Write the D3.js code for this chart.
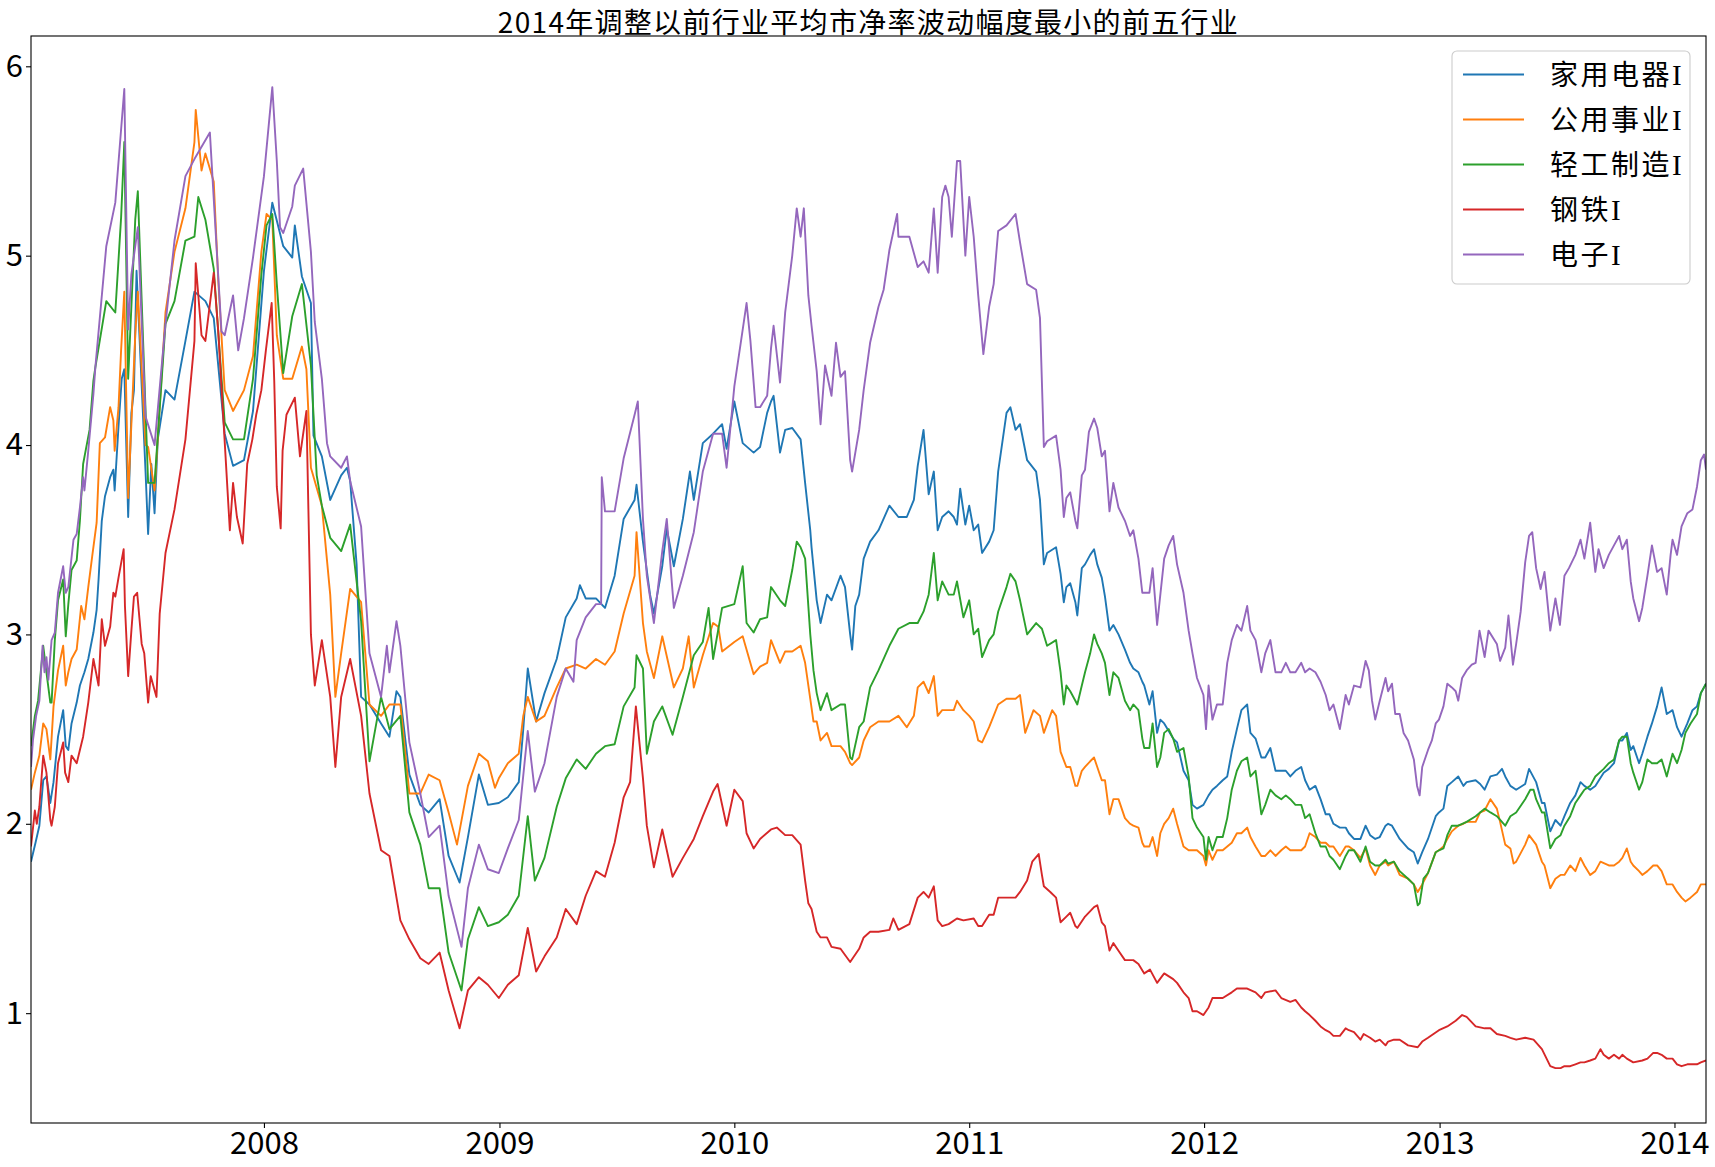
<!DOCTYPE html>
<html><head><meta charset="utf-8">
<script src="https://cdn.jsdelivr.net/npm/d3@7/dist/d3.min.js"></script>
<style>body{margin:0;background:#fff}</style>
</head><body>
<svg id="chart" width="1715" height="1167"></svg>
<script>
const chartTitle = "2014年调整以前行业平均市净率波动幅度最小的前五行业";
const seriesNames = ["家用电器I","公用事业I","轻工制造I","钢铁I","电子I"];
const seriesColors = ["#1f77b4","#ff7f0e","#2ca02c","#d62728","#9467bd"];
const yTickValues = [1,2,3,4,5,6];
const xTickYears = [2008,2009,2010,2011,2012,2013,2014];

const applianceData = [
["2007-01-04",1.80],["2007-01-11",1.90],["2007-01-17",1.99],["2007-01-23",2.23],["2007-01-28",2.25],["2007-02-03",2.11],["2007-02-08",2.22],["2007-02-15",2.46],["2007-02-23",2.60],["2007-02-27",2.41],["2007-03-03",2.39],["2007-03-08",2.53],["2007-03-16",2.64],["2007-03-21",2.73],["2007-03-28",2.80],["2007-04-03",2.87],["2007-04-11",3.01],["2007-04-16",3.13],["2007-04-19",3.29],["2007-04-24",3.60],["2007-04-29",3.73],["2007-05-07",3.83],["2007-05-12",3.87],["2007-05-14",3.76],["2007-05-20",4.10],["2007-05-25",4.35],["2007-05-29",4.40],["2007-06-04",3.62],["2007-06-09",4.17],["2007-06-13",4.29],["2007-06-17",4.92],["2007-07-01",3.86],["2007-07-05",3.53],["2007-07-10",3.90],["2007-07-15",3.64],["2007-07-20",4.03],["2007-08-01",4.29],["2007-08-15",4.24],["2007-09-01",4.55],["2007-09-15",4.81],["2007-10-02",4.76],["2007-10-15",4.67],["2007-11-01",4.06],["2007-11-14",3.89],["2007-12-01",3.92],["2007-12-15",4.18],
["2008-01-01",4.92],["2008-01-14",5.28],["2008-01-31",5.05],["2008-02-14",4.99],["2008-02-18",5.16],["2008-02-29",4.89],["2008-03-14",4.75],["2008-03-18",4.05],["2008-03-31",3.94],["2008-04-13",3.71],["2008-04-30",3.84],["2008-05-09",3.88],["2008-05-14",3.81],["2008-05-24",3.37],["2008-05-31",2.67],["2008-06-13",2.63],["2008-07-01",2.53],["2008-07-14",2.46],["2008-07-25",2.70],["2008-07-31",2.67],["2008-08-14",2.26],["2008-08-31",2.10],["2008-09-13",2.06],["2008-09-30",2.13],["2008-10-14",1.83],["2008-10-31",1.69],["2008-11-13",1.93],["2008-11-30",2.26],["2008-12-14",2.10],["2008-12-31",2.11],
["2009-01-14",2.14],["2009-01-31",2.22],["2009-02-07",2.5],["2009-02-14",2.82],["2009-02-27",2.54],["2009-03-12",2.69],["2009-03-31",2.87],["2009-04-14",3.09],["2009-05-01",3.19],["2009-05-06",3.26],["2009-05-15",3.19],["2009-05-31",3.19],["2009-06-14",3.14],["2009-06-29",3.31],["2009-07-13",3.61],["2009-07-30",3.71],["2009-08-02",3.79],["2009-08-12",3.49],["2009-08-23",3.21],["2009-08-29",3.11],["2009-09-11",3.36],["2009-09-18",3.56],["2009-09-29",3.36],["2009-10-13",3.61],["2009-10-24",3.86],["2009-10-30",3.71],["2009-11-13",4.01],["2009-11-29",4.06],["2009-12-13",4.11],["2009-12-20",3.98],["2010-01-01",4.23],["2010-01-14",4.01],["2010-01-31",3.96],
["2010-02-10",3.99],["2010-02-21",4.17],["2010-02-27",4.23],["2010-03-03",4.26],["2010-03-13",3.96],["2010-03-21",4.08],["2010-04-01",4.09],["2010-04-14",4.03],["2010-04-21",3.80],["2010-04-29",3.55],["2010-05-01",3.46],["2010-05-09",3.18],["2010-05-15",3.06],["2010-05-25",3.21],["2010-06-01",3.18],["2010-06-15",3.31],["2010-06-22",3.25],["2010-06-30",3.0],["2010-07-03",2.92],["2010-07-08",3.15],["2010-07-14",3.21],["2010-07-21",3.40],["2010-07-31",3.49],["2010-08-13",3.55],["2010-08-30",3.68],["2010-09-13",3.62],["2010-09-26",3.62],["2010-10-07",3.71],["2010-10-13",3.89],["2010-10-22",4.08],["2010-10-30",3.74],["2010-11-07",3.86],["2010-11-13",3.55],["2010-11-20",3.62],["2010-11-30",3.65],["2010-12-08",3.62],["2010-12-13",3.58],["2010-12-18",3.77],["2010-12-26",3.58],["2011-01-01",3.68],["2011-01-08",3.55],["2011-01-15",3.58],["2011-01-21",3.43],["2011-02-01",3.49],["2011-02-08",3.55],["2011-02-15",3.86],["2011-02-28",4.17],["2011-03-06",4.20],["2011-03-14",4.08],["2011-03-21",4.11],["2011-04-01",3.92],["2011-04-15",3.86],["2011-04-21",3.71],["2011-04-27",3.37],["2011-05-02",3.43],["2011-05-16",3.46],
["2011-05-23",3.32],["2011-05-28",3.17],["2011-06-01",3.25],["2011-06-07",3.27],["2011-06-15",3.17],["2011-06-18",3.10],["2011-06-25",3.35],["2011-06-30",3.37],["2011-07-08",3.42],["2011-07-14",3.45],["2011-07-19",3.37],["2011-07-26",3.30],["2011-07-31",3.20],["2011-08-07",3.02],["2011-08-13",3.05],["2011-08-21",3.0],["2011-08-31",2.92],["2011-09-08",2.85],["2011-09-13",2.82],["2011-09-21",2.80],["2011-09-27",2.75],["2011-09-30",2.73],["2011-10-08",2.63],["2011-10-13",2.70],["2011-10-20",2.48],["2011-10-25",2.55],["2011-10-31",2.53],["2011-11-14",2.45],["2011-11-20",2.43],["2011-11-30",2.28],["2011-12-08",2.23],["2011-12-14",2.10],["2011-12-21",2.08],["2011-12-31",2.10],["2012-01-08",2.15],["2012-01-14",2.18],["2012-01-21",2.20],["2012-01-30",2.23],["2012-02-06",2.25],["2012-02-13",2.38],["2012-02-21",2.50],["2012-02-28",2.60],["2012-03-08",2.63],["2012-03-13",2.48],["2012-03-21",2.45],["2012-03-30",2.35],["2012-04-05",2.35],["2012-04-13",2.40],["2012-04-21",2.28],["2012-04-30",2.28],["2012-05-07",2.28],["2012-05-14",2.25],["2012-05-22",2.28],["2012-05-31",2.30],["2012-06-06",2.23],["2012-06-13",2.18],["2012-06-22",2.20],["2012-06-30",2.13],["2012-07-08",2.05],["2012-07-14",2.05],["2012-07-20",2.0],["2012-07-30",1.98],["2012-08-08",1.98],["2012-08-13",1.95],["2012-08-21",1.92],
["2012-08-31",1.92],["2012-09-08",1.99],["2012-09-15",1.94],["2012-09-23",1.92],["2012-09-30",1.93],["2012-10-09",1.99],["2012-10-13",2.0],["2012-10-19",1.99],["2012-10-31",1.92],["2012-11-13",1.87],["2012-11-22",1.85],["2012-11-28",1.79],["2012-12-05",1.85],["2012-12-14",1.92],["2012-12-26",2.04],["2012-12-31",2.06],["2013-01-07",2.08],["2013-01-13",2.20],["2013-01-20",2.22],["2013-01-30",2.25],["2013-02-07",2.20],["2013-02-12",2.22],["2013-02-26",2.23],["2013-03-05",2.21],["2013-03-12",2.18],["2013-03-21",2.25],["2013-03-31",2.26],["2013-04-08",2.29],["2013-04-13",2.25],["2013-04-21",2.20],["2013-04-30",2.18],["2013-05-14",2.21],["2013-05-20",2.29],["2013-05-31",2.22],["2013-06-09",2.11],["2013-06-13",2.11],["2013-06-22",1.96],["2013-06-30",2.02],["2013-07-08",1.99],["2013-07-14",2.04],["2013-07-23",2.11],["2013-07-31",2.15],["2013-08-08",2.22],["2013-08-14",2.20],["2013-08-23",2.18],["2013-08-31",2.20],["2013-09-13",2.27],["2013-09-21",2.29],["2013-09-29",2.32],["2013-10-07",2.44],["2013-10-12",2.44],["2013-10-19",2.48],["2013-10-25",2.39],["2013-10-29",2.41],["2013-11-07",2.32],["2013-11-12",2.37],["2013-11-20",2.46],["2013-11-27",2.53],["2013-12-05",2.62],["2013-12-12",2.72],["2013-12-20",2.58],["2013-12-29",2.60],["2014-01-05",2.51],["2014-01-12",2.46],["2014-01-21",2.53],["2014-01-29",2.60],["2014-02-05",2.62],["2014-02-11",2.69],["2014-02-19",2.74]
];

const utilitiesData = [
["2007-01-04",2.18],["2007-01-10",2.27],["2007-01-17",2.36],["2007-01-23",2.53],["2007-01-28",2.50],["2007-02-03",2.34],["2007-02-08",2.62],["2007-02-15",2.81],["2007-02-23",2.94],["2007-02-27",2.73],["2007-03-03",2.80],["2007-03-08",2.87],["2007-03-16",2.92],["2007-03-23",3.15],["2007-03-28",3.08],["2007-04-03",3.25],["2007-04-09",3.41],["2007-04-16",3.59],["2007-04-21",4.01],["2007-04-29",4.04],["2007-05-07",4.20],["2007-05-12",4.13],["2007-05-14",3.97],["2007-05-20",4.20],["2007-05-24",4.5],["2007-05-29",4.81],["2007-06-04",3.72],["2007-06-15",4.58],["2007-06-19",4.81],["2007-07-01",4.0],["2007-07-05",3.99],["2007-07-15",3.76],["2007-08-01",4.70],["2007-08-15",5.02],["2007-09-01",5.25],["2007-09-15",5.6],["2007-09-17",5.77],["2007-09-26",5.45],["2007-10-02",5.54],["2007-10-15",5.39],["2007-10-22",4.87],["2007-11-01",4.29],["2007-11-14",4.18],["2007-12-01",4.29],["2007-12-15",4.47],["2007-12-28",5.02],
["2008-01-05",5.22],["2008-01-14",5.19],["2008-01-21",4.58],["2008-01-31",4.35],["2008-02-14",4.35],["2008-02-29",4.52],["2008-03-07",4.4],["2008-03-14",3.88],["2008-03-31",3.68],["2008-04-13",3.21],["2008-04-21",2.67],["2008-04-30",2.9],["2008-05-14",3.24],["2008-05-31",3.17],["2008-06-13",2.63],["2008-07-01",2.57],["2008-07-14",2.63],["2008-07-31",2.63],["2008-08-14",2.16],["2008-08-31",2.16],["2008-09-13",2.26],["2008-09-30",2.23],["2008-10-14",2.06],["2008-10-27",1.89],["2008-11-13",2.20],["2008-11-30",2.37],["2008-12-14",2.33],["2008-12-25",2.19],["2008-12-31",2.24],
["2009-01-14",2.32],["2009-01-31",2.37],["2009-02-07",2.57],["2009-02-14",2.67],["2009-02-27",2.54],["2009-03-12",2.57],["2009-03-31",2.72],["2009-04-14",2.82],["2009-05-01",2.84],["2009-05-15",2.82],["2009-05-31",2.87],["2009-06-14",2.84],["2009-06-29",2.91],["2009-07-13",3.11],["2009-07-30",3.31],["2009-08-02",3.54],["2009-08-12",3.06],["2009-08-18",2.91],["2009-08-29",2.77],["2009-09-11",2.99],["2009-09-29",2.72],["2009-10-13",2.82],["2009-10-22",2.99],["2009-10-30",2.72],["2009-11-13",2.89],["2009-11-29",3.06],["2009-12-07",3.04],["2009-12-13",2.91],["2010-01-01",2.96],["2010-01-14",2.99],["2010-01-31",2.79],
["2010-02-10",2.83],["2010-02-21",2.85],["2010-02-27",2.97],["2010-03-13",2.85],["2010-03-21",2.91],["2010-04-01",2.91],["2010-04-14",2.94],["2010-04-21",2.85],["2010-04-29",2.66],["2010-05-04",2.54],["2010-05-09",2.54],["2010-05-15",2.44],["2010-05-25",2.48],["2010-06-01",2.41],["2010-06-15",2.41],["2010-06-22",2.38],["2010-06-30",2.32],["2010-07-03",2.31],["2010-07-14",2.35],["2010-07-21",2.44],["2010-07-31",2.51],["2010-08-13",2.54],["2010-08-30",2.54],["2010-09-13",2.57],["2010-09-26",2.51],["2010-10-07",2.57],["2010-10-13",2.72],["2010-10-22",2.75],["2010-10-30",2.69],["2010-11-07",2.78],["2010-11-13",2.57],["2010-11-20",2.60],["2010-11-30",2.60],["2010-12-08",2.60],["2010-12-13",2.65],["2010-12-23",2.60],["2011-01-01",2.57],["2011-01-08",2.54],["2011-01-15",2.44],["2011-01-21",2.43],["2011-02-01",2.51],["2011-02-08",2.57],["2011-02-15",2.63],["2011-02-28",2.66],["2011-03-14",2.66],["2011-03-21",2.68],["2011-03-29",2.48],["2011-04-11",2.60],["2011-04-21",2.57],["2011-04-27",2.48],["2011-05-10",2.60],["2011-05-16",2.57],
["2011-05-23",2.38],["2011-06-01",2.30],["2011-06-07",2.30],["2011-06-15",2.20],["2011-06-18",2.20],["2011-06-25",2.28],["2011-06-30",2.30],["2011-07-08",2.33],["2011-07-14",2.35],["2011-07-19",2.30],["2011-07-26",2.23],["2011-07-31",2.23],["2011-08-07",2.05],["2011-08-13",2.13],["2011-08-21",2.13],["2011-08-31",2.03],["2011-09-08",2.0],["2011-09-13",1.99],["2011-09-21",1.98],["2011-09-27",1.90],["2011-09-30",1.88],["2011-10-08",1.88],["2011-10-13",1.93],["2011-10-20",1.83],["2011-10-25",1.95],["2011-10-31",2.0],["2011-11-07",2.03],["2011-11-14",2.08],["2011-11-20",2.0],["2011-11-30",1.88],["2011-12-08",1.86],["2011-12-14",1.86],["2011-12-21",1.86],["2011-12-31",1.83],["2012-01-04",1.78],["2012-01-08",1.86],["2012-01-14",1.81],["2012-01-21",1.86],["2012-01-30",1.86],["2012-02-06",1.88],["2012-02-13",1.90],["2012-02-21",1.95],["2012-02-28",1.95],["2012-03-08",1.98],["2012-03-13",1.93],["2012-03-21",1.88],["2012-03-30",1.83],["2012-04-05",1.83],["2012-04-13",1.86],["2012-04-21",1.83],["2012-04-30",1.86],["2012-05-07",1.88],["2012-05-14",1.86],["2012-05-22",1.86],["2012-05-31",1.86],["2012-06-06",1.88],["2012-06-13",1.95],["2012-06-22",1.93],["2012-06-30",1.90],["2012-07-08",1.90],["2012-07-14",1.88],["2012-07-20",1.88],["2012-07-30",1.83],["2012-08-08",1.88],["2012-08-13",1.88],["2012-08-21",1.86],
["2012-08-31",1.82],["2012-09-08",1.87],["2012-09-15",1.78],["2012-09-23",1.73],["2012-09-30",1.78],["2012-10-09",1.80],["2012-10-13",1.78],["2012-10-22",1.80],["2012-10-31",1.73],["2012-11-13",1.71],["2012-11-22",1.68],["2012-11-28",1.64],["2012-12-05",1.68],["2012-12-14",1.74],["2012-12-26",1.85],["2012-12-31",1.86],["2013-01-07",1.88],["2013-01-13",1.92],["2013-01-20",1.96],["2013-01-30",1.99],["2013-02-07",2.0],["2013-02-12",2.01],["2013-02-26",2.01],["2013-03-05",2.06],["2013-03-12",2.07],["2013-03-21",2.13],["2013-03-31",2.08],["2013-04-05",2.01],["2013-04-13",1.89],["2013-04-21",1.87],["2013-04-26",1.79],["2013-04-30",1.80],["2013-05-14",1.89],["2013-05-20",1.94],["2013-05-31",1.89],["2013-06-09",1.80],["2013-06-13",1.78],["2013-06-22",1.66],["2013-06-30",1.71],["2013-07-08",1.73],["2013-07-14",1.73],["2013-07-23",1.78],["2013-07-31",1.75],["2013-08-08",1.82],["2013-08-14",1.78],["2013-08-23",1.73],["2013-08-31",1.75],["2013-09-08",1.80],["2013-09-21",1.78],["2013-09-29",1.78],["2013-10-07",1.80],["2013-10-12",1.82],["2013-10-19",1.87],["2013-10-25",1.80],["2013-10-29",1.78],["2013-11-07",1.75],["2013-11-12",1.73],["2013-11-20",1.75],["2013-11-29",1.78],["2013-12-05",1.78],["2013-12-12",1.75],["2013-12-20",1.68],["2013-12-29",1.68],["2014-01-05",1.64],["2014-01-12",1.61],["2014-01-18",1.59],["2014-01-26",1.61],["2014-02-05",1.64],["2014-02-11",1.68],["2014-02-19",1.68]
];

const lightIndustryData = [
["2007-01-04",2.41],["2007-01-10",2.57],["2007-01-15",2.65],["2007-01-23",2.94],["2007-01-28",2.80],["2007-02-03",2.64],["2007-02-05",2.64],["2007-02-10",2.97],["2007-02-15",3.18],["2007-02-23",3.29],["2007-02-27",2.99],["2007-03-03",3.16],["2007-03-08",3.34],["2007-03-16",3.39],["2007-03-21",3.60],["2007-03-26",3.90],["2007-03-31",3.99],["2007-04-05",4.08],["2007-04-11",4.34],["2007-04-14",4.41],["2007-05-01",4.76],["2007-05-15",4.70],["2007-05-24",5.2],["2007-05-29",5.6],["2007-06-04",4.35],["2007-06-15",5.19],["2007-06-19",5.34],["2007-07-05",3.8],["2007-07-15",3.80],["2007-08-01",4.64],["2007-08-15",4.76],["2007-09-01",5.08],["2007-09-15",5.10],["2007-09-21",5.31],["2007-10-02",5.19],["2007-10-15",4.93],["2007-11-01",4.12],["2007-11-14",4.03],["2007-12-01",4.03],["2007-12-15",4.35],["2007-12-28",4.9],
["2008-01-05",5.16],["2008-01-14",5.22],["2008-01-21",4.85],["2008-01-31",4.38],["2008-02-14",4.68],["2008-02-29",4.85],["2008-03-14",4.42],["2008-03-23",3.84],["2008-03-31",3.68],["2008-04-13",3.51],["2008-04-30",3.44],["2008-05-14",3.58],["2008-05-31",3.07],["2008-06-13",2.33],["2008-07-01",2.67],["2008-07-14",2.50],["2008-07-31",2.57],["2008-08-14",2.06],["2008-08-31",1.89],["2008-09-13",1.66],["2008-09-30",1.66],["2008-10-14",1.32],["2008-10-31",1.15],["2008-11-03",1.12],["2008-11-13",1.39],["2008-11-30",1.56],["2008-12-14",1.46],["2008-12-31",1.48],
["2009-01-14",1.52],["2009-01-31",1.62],["2009-02-14",2.04],["2009-02-25",1.70],["2009-03-12",1.82],["2009-03-31",2.09],["2009-04-14",2.24],["2009-05-01",2.34],["2009-05-15",2.29],["2009-05-31",2.37],["2009-06-14",2.41],["2009-06-29",2.42],["2009-07-13",2.62],["2009-07-30",2.72],["2009-08-02",2.89],["2009-08-12",2.82],["2009-08-18",2.37],["2009-08-29",2.54],["2009-09-11",2.62],["2009-09-27",2.47],["2009-10-13",2.67],["2009-10-30",2.89],["2009-11-13",2.96],["2009-11-22",3.14],["2009-11-29",2.87],["2009-12-13",3.14],["2010-01-01",3.16],["2010-01-14",3.36],["2010-01-20",3.06],["2010-01-31",3.01],
["2010-02-10",3.08],["2010-02-21",3.09],["2010-02-27",3.25],["2010-03-13",3.18],["2010-03-21",3.15],["2010-04-01",3.34],["2010-04-08",3.49],["2010-04-14",3.46],["2010-04-21",3.40],["2010-04-29",3.0],["2010-05-04",2.81],["2010-05-09",2.69],["2010-05-15",2.60],["2010-05-25",2.69],["2010-06-01",2.60],["2010-06-15",2.63],["2010-06-22",2.63],["2010-06-30",2.35],["2010-07-03",2.34],["2010-07-14",2.51],["2010-07-21",2.54],["2010-07-31",2.72],["2010-08-13",2.81],["2010-08-30",2.94],["2010-09-13",3.03],["2010-09-30",3.06],["2010-10-13",3.06],["2010-10-22",3.12],["2010-10-30",3.21],["2010-11-07",3.43],["2010-11-13",3.18],["2010-11-20",3.28],["2010-11-30",3.21],["2010-12-08",3.21],["2010-12-13",3.28],["2010-12-23",3.09],["2011-01-01",3.18],["2011-01-08",3.0],["2011-01-15",3.03],["2011-01-21",2.88],["2011-02-01",2.97],["2011-02-08",3.0],["2011-02-15",3.12],["2011-02-28",3.25],["2011-03-06",3.32],["2011-03-14",3.28],["2011-03-21",3.18],["2011-04-01",3.0],["2011-04-15",3.06],["2011-04-24",3.03],["2011-05-02",2.94],["2011-05-16",2.97],
["2011-05-23",2.80],["2011-05-28",2.63],["2011-06-01",2.73],["2011-06-07",2.70],["2011-06-15",2.65],["2011-06-18",2.63],["2011-06-25",2.73],["2011-06-30",2.80],["2011-07-08",2.90],["2011-07-14",3.0],["2011-07-19",2.95],["2011-07-26",2.90],["2011-07-31",2.85],["2011-08-07",2.68],["2011-08-13",2.80],["2011-08-21",2.77],["2011-08-31",2.65],["2011-09-08",2.60],["2011-09-13",2.63],["2011-09-21",2.60],["2011-09-27",2.45],["2011-09-30",2.40],["2011-10-08",2.40],["2011-10-13",2.53],["2011-10-20",2.30],["2011-10-25",2.35],["2011-10-31",2.48],["2011-11-07",2.50],["2011-11-14",2.45],["2011-11-20",2.38],["2011-11-30",2.40],["2011-12-08",2.25],["2011-12-14",2.03],["2011-12-21",1.98],["2011-12-31",1.93],["2012-01-04",1.81],["2012-01-08",1.93],["2012-01-14",1.86],["2012-01-21",1.93],["2012-01-30",1.93],["2012-02-06",2.03],["2012-02-13",2.18],["2012-02-21",2.28],["2012-02-28",2.33],["2012-03-08",2.35],["2012-03-13",2.25],["2012-03-21",2.28],["2012-03-30",2.05],["2012-04-05",2.10],["2012-04-13",2.18],["2012-04-21",2.15],["2012-04-30",2.13],["2012-05-07",2.15],["2012-05-14",2.13],["2012-05-22",2.10],["2012-05-31",2.10],["2012-06-06",2.03],["2012-06-13",2.05],["2012-06-22",1.95],["2012-06-30",1.88],["2012-07-08",1.88],["2012-07-14",1.83],["2012-07-20",1.81],["2012-07-30",1.76],["2012-08-08",1.83],["2012-08-13",1.86],["2012-08-21",1.86],
["2012-08-31",1.80],["2012-09-08",1.88],["2012-09-15",1.80],["2012-09-23",1.78],["2012-09-30",1.78],["2012-10-09",1.81],["2012-10-13",1.79],["2012-10-22",1.80],["2012-10-31",1.75],["2012-11-13",1.71],["2012-11-22",1.68],["2012-11-28",1.57],["2012-12-01",1.58],["2012-12-07",1.71],["2012-12-14",1.74],["2012-12-26",1.85],["2012-12-31",1.86],["2013-01-07",1.87],["2013-01-13",1.94],["2013-01-20",1.99],["2013-01-30",1.99],["2013-02-12",2.01],["2013-02-26",2.04],["2013-03-05",2.06],["2013-03-12",2.08],["2013-03-21",2.06],["2013-03-31",2.04],["2013-04-13",1.99],["2013-04-21",2.04],["2013-04-30",2.06],["2013-05-14",2.13],["2013-05-22",2.18],["2013-05-27",2.18],["2013-05-31",2.13],["2013-06-09",2.06],["2013-06-13",2.06],["2013-06-22",1.87],["2013-06-30",1.92],["2013-07-08",1.94],["2013-07-14",1.99],["2013-07-23",2.04],["2013-07-31",2.11],["2013-08-08",2.15],["2013-08-14",2.18],["2013-08-23",2.20],["2013-08-31",2.25],["2013-09-13",2.29],["2013-09-21",2.32],["2013-09-29",2.34],["2013-10-07",2.44],["2013-10-12",2.46],["2013-10-19",2.46],["2013-10-25",2.32],["2013-10-29",2.27],["2013-11-07",2.18],["2013-11-12",2.22],["2013-11-20",2.34],["2013-11-27",2.32],["2013-12-05",2.32],["2013-12-12",2.34],["2013-12-20",2.25],["2013-12-29",2.37],["2014-01-05",2.32],["2014-01-12",2.39],["2014-01-18",2.48],["2014-01-26",2.53],["2014-02-05",2.58],["2014-02-11",2.69],["2014-02-19",2.74]
];

const steelData = [
["2007-01-04",1.88],["2007-01-10",2.07],["2007-01-13",2.0],["2007-01-17",2.09],["2007-01-23",2.36],["2007-01-28",2.27],["2007-02-03",2.02],["2007-02-05",1.99],["2007-02-10",2.09],["2007-02-15",2.32],["2007-02-23",2.43],["2007-02-26",2.27],["2007-03-03",2.22],["2007-03-08",2.36],["2007-03-16",2.32],["2007-03-26",2.46],["2007-04-03",2.64],["2007-04-11",2.87],["2007-04-15",2.80],["2007-04-19",2.73],["2007-04-24",3.08],["2007-04-29",2.94],["2007-05-07",3.04],["2007-05-12",3.22],["2007-05-15",3.2],["2007-05-20",3.30],["2007-05-28",3.45],["2007-05-30",3.15],["2007-06-04",2.78],["2007-06-09",3.02],["2007-06-13",3.20],["2007-06-18",3.22],["2007-06-25",2.95],["2007-06-29",2.90],["2007-07-05",2.64],["2007-07-09",2.78],["2007-07-13",2.73],["2007-07-18",2.67],["2007-07-23",3.11],["2007-08-01",3.43],["2007-08-15",3.66],["2007-09-01",4.03],["2007-09-15",4.55],["2007-09-17",4.96],["2007-09-26",4.58],["2007-10-02",4.55],["2007-10-15",4.91],["2007-10-22",4.6],["2007-11-02",3.96],["2007-11-09",3.55],["2007-11-14",3.8],["2007-11-20",3.62],["2007-11-29",3.48],["2007-12-06",3.9],["2007-12-14",4.03],["2007-12-20",4.16],["2007-12-28",4.29],
["2008-01-04",4.5],["2008-01-13",4.75],["2008-01-17",4.34],["2008-01-21",3.78],["2008-01-27",3.56],["2008-01-30",3.97],["2008-02-05",4.16],["2008-02-18",4.25],["2008-02-26",3.94],["2008-03-07",4.18],["2008-03-14",3.0],["2008-03-20",2.73],["2008-03-31",2.97],["2008-04-13",2.67],["2008-04-21",2.30],["2008-04-30",2.67],["2008-05-14",2.87],["2008-05-31",2.57],["2008-06-13",2.16],["2008-07-01",1.86],["2008-07-14",1.83],["2008-07-31",1.49],["2008-08-14",1.39],["2008-08-31",1.29],["2008-09-13",1.26],["2008-09-30",1.32],["2008-10-14",1.12],["2008-10-31",0.92],["2008-11-13",1.12],["2008-11-30",1.19],["2008-12-14",1.15],["2008-12-31",1.08],
["2009-01-14",1.15],["2009-01-31",1.2],["2009-02-14",1.45],["2009-02-27",1.22],["2009-03-12",1.30],["2009-03-31",1.40],["2009-04-14",1.55],["2009-05-01",1.47],["2009-05-15",1.62],["2009-05-31",1.75],["2009-06-14",1.72],["2009-06-29",1.90],["2009-07-13",2.14],["2009-07-23",2.22],["2009-08-01",2.62],["2009-08-12",2.24],["2009-08-18",1.99],["2009-08-29",1.77],["2009-09-11",1.97],["2009-09-27",1.72],["2009-10-13",1.82],["2009-10-30",1.92],["2009-11-13",2.04],["2009-11-29",2.17],["2009-12-06",2.21],["2009-12-20",1.99],["2010-01-01",2.18],["2010-01-14",2.12],["2010-01-20",1.95],["2010-01-31",1.87],
["2010-02-10",1.92],["2010-02-27",1.97],["2010-03-08",1.98],["2010-03-21",1.94],["2010-04-01",1.94],["2010-04-14",1.89],["2010-04-21",1.70],["2010-04-26",1.58],["2010-05-01",1.55],["2010-05-09",1.43],["2010-05-15",1.40],["2010-05-25",1.40],["2010-06-01",1.35],["2010-06-15",1.34],["2010-06-30",1.27],["2010-07-14",1.34],["2010-07-21",1.40],["2010-07-31",1.43],["2010-08-13",1.43],["2010-08-30",1.44],["2010-09-05",1.50],["2010-09-13",1.44],["2010-09-30",1.47],["2010-10-13",1.61],["2010-10-22",1.64],["2010-10-30",1.61],["2010-11-07",1.67],["2010-11-13",1.49],["2010-11-20",1.46],["2010-11-30",1.47],["2010-12-13",1.50],["2010-12-23",1.49],["2011-01-08",1.50],["2011-01-15",1.46],["2011-01-21",1.46],["2011-02-01",1.52],["2011-02-08",1.52],["2011-02-15",1.61],["2011-02-28",1.61],["2011-03-14",1.61],["2011-03-21",1.64],["2011-04-01",1.70],["2011-04-09",1.80],["2011-04-19",1.84],["2011-04-24",1.73],["2011-04-27",1.67],["2011-05-07",1.64],["2011-05-16",1.61],
["2011-05-23",1.48],["2011-06-01",1.51],["2011-06-07",1.53],["2011-06-15",1.46],["2011-06-18",1.45],["2011-06-30",1.51],["2011-07-14",1.56],["2011-07-19",1.57],["2011-07-26",1.48],["2011-07-31",1.46],["2011-08-07",1.33],["2011-08-13",1.37],["2011-08-21",1.33],["2011-08-31",1.28],["2011-09-13",1.28],["2011-09-21",1.26],["2011-09-30",1.21],["2011-10-09",1.23],["2011-10-20",1.16],["2011-10-31",1.21],["2011-11-14",1.18],["2011-11-20",1.16],["2011-11-30",1.11],["2011-12-08",1.08],["2011-12-14",1.01],["2011-12-21",1.01],["2011-12-31",0.99],["2012-01-08",1.03],["2012-01-14",1.08],["2012-01-30",1.08],["2012-02-13",1.11],["2012-02-21",1.13],["2012-03-08",1.13],["2012-03-21",1.11],["2012-03-30",1.08],["2012-04-05",1.11],["2012-04-21",1.12],["2012-04-30",1.08],["2012-05-14",1.06],["2012-05-22",1.07],["2012-05-31",1.03],["2012-06-06",1.01],["2012-06-13",0.99],["2012-06-22",0.96],["2012-06-30",0.93],["2012-07-08",0.91],["2012-07-14",0.90],["2012-07-20",0.88],["2012-07-30",0.88],["2012-08-08",0.92],["2012-08-13",0.91],["2012-08-21",0.90],
["2012-08-31",0.86],["2012-09-05",0.89],["2012-09-15",0.87],["2012-09-23",0.85],["2012-09-30",0.86],["2012-10-09",0.83],["2012-10-13",0.85],["2012-10-22",0.86],["2012-10-31",0.86],["2012-11-13",0.83],["2012-11-28",0.82],["2012-12-05",0.85],["2012-12-14",0.87],["2012-12-31",0.91],["2013-01-13",0.93],["2013-01-26",0.96],["2013-02-05",0.99],["2013-02-12",0.98],["2013-02-26",0.93],["2013-03-12",0.92],["2013-03-21",0.92],["2013-03-31",0.89],["2013-04-13",0.88],["2013-04-21",0.87],["2013-04-30",0.86],["2013-05-14",0.87],["2013-05-27",0.86],["2013-06-09",0.81],["2013-06-22",0.72],["2013-06-30",0.71],["2013-07-08",0.71],["2013-07-14",0.72],["2013-07-23",0.72],["2013-07-31",0.73],["2013-08-08",0.74],["2013-08-14",0.74],["2013-08-23",0.75],["2013-08-31",0.76],["2013-09-08",0.81],["2013-09-13",0.78],["2013-09-21",0.76],["2013-09-29",0.78],["2013-10-07",0.76],["2013-10-12",0.78],["2013-10-19",0.76],["2013-10-29",0.74],["2013-11-12",0.75],["2013-11-20",0.76],["2013-11-29",0.79],["2013-12-05",0.79],["2013-12-12",0.78],["2013-12-20",0.76],["2013-12-29",0.76],["2014-01-05",0.73],["2014-01-12",0.72],["2014-01-21",0.73],["2014-01-29",0.73],["2014-02-05",0.73],["2014-02-11",0.74],["2014-02-19",0.75]
];

const electronicsData = [
["2007-01-04",2.30],["2007-01-07",2.44],["2007-01-12",2.57],["2007-01-17",2.65],["2007-01-22",2.94],["2007-01-25",2.80],["2007-01-28",2.88],["2007-01-31",2.76],["2007-02-05",2.97],["2007-02-10",3.01],["2007-02-15",3.22],["2007-02-23",3.36],["2007-02-27",3.22],["2007-03-03",3.25],["2007-03-11",3.50],["2007-03-16",3.53],["2007-03-21",3.67],["2007-03-26",3.83],["2007-03-28",3.76],["2007-04-03",3.97],["2007-04-11",4.27],["2007-04-14",4.41],["2007-05-01",5.05],["2007-05-15",5.28],["2007-05-29",5.88],["2007-06-04",4.61],["2007-06-09",4.9],["2007-06-19",5.15],["2007-07-01",4.15],["2007-07-15",4.0],["2007-08-01",4.64],["2007-08-15",5.08],["2007-09-01",5.42],["2007-09-15",5.51],["2007-10-09",5.65],["2007-10-15",5.3],["2007-10-27",4.6],["2007-11-01",4.58],["2007-11-14",4.79],["2007-11-22",4.5],["2007-12-01",4.67],["2007-12-15",4.99],
["2008-01-01",5.42],["2008-01-14",5.89],["2008-01-21",5.5],["2008-01-26",5.15],["2008-01-31",5.12],["2008-02-14",5.26],["2008-02-18",5.37],["2008-03-02",5.46],["2008-03-14",5.02],["2008-03-20",4.65],["2008-03-31",4.35],["2008-04-08",4.01],["2008-04-13",3.94],["2008-04-30",3.88],["2008-05-09",3.94],["2008-05-14",3.81],["2008-05-31",3.57],["2008-06-13",2.9],["2008-07-01",2.67],["2008-07-10",2.94],["2008-07-14",2.8],["2008-07-25",3.07],["2008-07-31",2.94],["2008-08-14",2.43],["2008-08-31",2.16],["2008-09-13",1.93],["2008-09-30",1.99],["2008-10-14",1.62],["2008-11-03",1.35],["2008-11-13",1.66],["2008-11-30",1.89],["2008-12-14",1.76],["2008-12-31",1.74],
["2009-01-14",1.87],["2009-01-31",2.02],["2009-02-14",2.49],["2009-02-25",2.17],["2009-03-12",2.32],["2009-03-31",2.67],["2009-04-14",2.82],["2009-04-26",2.75],["2009-05-01",2.97],["2009-05-15",3.09],["2009-05-31",3.16],["2009-06-08",3.16],["2009-06-09",3.83],["2009-06-14",3.65],["2009-06-29",3.65],["2009-07-13",3.93],["2009-07-30",4.16],["2009-08-04",4.23],["2009-08-12",3.61],["2009-08-18",3.31],["2009-08-29",3.06],["2009-09-11",3.44],["2009-09-18",3.61],["2009-09-29",3.14],["2009-10-13",3.31],["2009-10-30",3.54],["2009-11-13",3.86],["2009-11-29",4.06],["2009-12-13",4.06],["2009-12-20",3.88],["2010-01-01",4.31],["2010-01-14",4.61],["2010-01-20",4.75],["2010-01-26",4.55],["2010-02-03",4.2],
["2010-02-10",4.20],["2010-02-21",4.26],["2010-02-27",4.51],["2010-03-03",4.63],["2010-03-13",4.33],["2010-03-21",4.70],["2010-04-01",5.0],["2010-04-08",5.25],["2010-04-14",5.1],["2010-04-19",5.25],["2010-04-26",4.79],["2010-05-01",4.63],["2010-05-09",4.39],["2010-05-15",4.11],["2010-05-22",4.42],["2010-06-01",4.26],["2010-06-08",4.54],["2010-06-15",4.36],["2010-06-22",4.39],["2010-06-30",3.92],["2010-07-03",3.86],["2010-07-14",4.08],["2010-07-21",4.29],["2010-07-31",4.54],["2010-08-13",4.73],["2010-08-21",4.82],["2010-08-30",5.03],["2010-09-11",5.22],["2010-09-13",5.10],["2010-09-30",5.10],["2010-10-13",4.94],["2010-10-22",4.97],["2010-10-30",4.91],["2010-11-07",5.25],["2010-11-13",4.91],["2010-11-20",5.31],["2010-11-25",5.37],["2010-11-30",5.31],["2010-12-05",5.10],["2010-12-13",5.50],["2010-12-18",5.50],["2010-12-26",5.0],["2011-01-01",5.31],["2011-01-08",5.10],["2011-01-15",4.79],["2011-01-23",4.48],["2011-02-01",4.73],["2011-02-08",4.85],["2011-02-15",5.13],["2011-02-28",5.16],["2011-03-14",5.22],["2011-03-21",5.07],["2011-04-01",4.85],["2011-04-15",4.82],["2011-04-21",4.67],["2011-04-27",3.99],["2011-05-02",4.02],["2011-05-16",4.05],
["2011-05-23",3.87],["2011-05-28",3.62],["2011-06-01",3.72],["2011-06-07",3.75],["2011-06-15",3.60],["2011-06-18",3.56],["2011-06-25",3.84],["2011-06-30",3.87],["2011-07-06",4.07],["2011-07-14",4.14],["2011-07-19",4.09],["2011-07-26",3.94],["2011-07-31",3.97],["2011-08-07",3.65],["2011-08-13",3.80],["2011-08-21",3.67],["2011-08-31",3.60],["2011-09-08",3.52],["2011-09-13",3.55],["2011-09-21",3.40],["2011-09-27",3.22],["2011-10-08",3.22],["2011-10-13",3.35],["2011-10-20",3.05],["2011-10-31",3.40],["2011-11-07",3.47],["2011-11-14",3.52],["2011-11-20",3.37],["2011-11-30",3.22],["2011-12-08",3.02],["2011-12-14",2.90],["2011-12-21",2.77],["2011-12-31",2.68],["2012-01-04",2.50],["2012-01-08",2.73],["2012-01-14",2.55],["2012-01-21",2.63],["2012-01-30",2.63],["2012-02-06",2.85],["2012-02-13",2.97],["2012-02-21",3.05],["2012-02-28",3.02],["2012-03-08",3.15],["2012-03-13",3.02],["2012-03-21",2.97],["2012-03-30",2.80],["2012-04-05",2.90],["2012-04-13",2.97],["2012-04-21",2.80],["2012-04-30",2.80],["2012-05-07",2.85],["2012-05-14",2.80],["2012-05-22",2.80],["2012-05-31",2.85],["2012-06-06",2.80],["2012-06-13",2.82],["2012-06-22",2.80],["2012-06-30",2.75],["2012-07-08",2.68],["2012-07-14",2.60],["2012-07-20",2.63],["2012-07-30",2.50],["2012-08-08",2.68],["2012-08-13",2.63],["2012-08-21",2.73],
["2012-08-31",2.72],["2012-09-08",2.86],["2012-09-13",2.81],["2012-09-18",2.65],["2012-09-23",2.55],["2012-09-30",2.65],["2012-10-09",2.77],["2012-10-13",2.70],["2012-10-19",2.74],["2012-10-24",2.58],["2012-10-31",2.58],["2012-11-06",2.48],["2012-11-13",2.44],["2012-11-22",2.34],["2012-11-27",2.20],["2012-12-01",2.15],["2012-12-05",2.30],["2012-12-14",2.39],["2012-12-20",2.44],["2012-12-26",2.53],["2012-12-31",2.55],["2013-01-07",2.62],["2013-01-13",2.74],["2013-01-20",2.72],["2013-01-26",2.70],["2013-01-30",2.65],["2013-02-05",2.77],["2013-02-12",2.81],["2013-02-20",2.84],["2013-02-26",2.85],["2013-03-04",3.02],["2013-03-12",2.88],["2013-03-18",3.02],["2013-03-31",2.95],["2013-04-05",2.86],["2013-04-13",2.93],["2013-04-18",3.10],["2013-04-25",2.84],["2013-04-30",2.95],["2013-05-07",3.12],["2013-05-14",3.38],["2013-05-20",3.52],["2013-05-25",3.54],["2013-05-31",3.35],["2013-06-07",3.24],["2013-06-13",3.33],["2013-06-22",3.02],["2013-06-30",3.19],["2013-07-07",3.05],["2013-07-14",3.31],["2013-07-21",3.35],["2013-07-31",3.42],["2013-08-08",3.50],["2013-08-14",3.40],["2013-08-23",3.59],["2013-08-31",3.33],["2013-09-05",3.45],["2013-09-13",3.35],["2013-09-21",3.42],["2013-09-29",3.47],["2013-10-07",3.52],["2013-10-12",3.45],["2013-10-19",3.50],["2013-10-25",3.28],["2013-10-29",3.19],["2013-11-07",3.07],["2013-11-12",3.14],["2013-11-20",3.31],["2013-11-27",3.47],["2013-12-05",3.33],["2013-12-12",3.35],["2013-12-20",3.21],["2013-12-26",3.42],["2013-12-29",3.50],["2014-01-05",3.42],["2014-01-12",3.57],["2014-01-21",3.64],["2014-01-29",3.66],["2014-02-05",3.78],["2014-02-11",3.92],["2014-02-16",3.95],["2014-02-19",3.87]
];

const yDomain = [0.42, 6.16];

const W = 1715, H = 1167;
const plot = {left: 31, right: 1706, top: 36, bottom: 1123};
const font = "'Noto Sans CJK SC', 'Noto Sans', sans-serif";
const parse = d3.utcParse("%Y-%m-%d");

const rawSeries = [applianceData, utilitiesData, lightIndustryData, steelData, electronicsData];
const series = rawSeries.map((arr, i) => ({
  name: seriesNames[i],
  color: seriesColors[i],
  values: arr.map(([d, v]) => ({date: parse(d), value: v})).sort((a, b) => a.date - b.date)
}));

const allDates = series.flatMap(s => s.values.map(v => v.date));
const x = d3.scaleUtc().domain(d3.extent(allDates)).range([plot.left, plot.right]);
const y = d3.scaleLinear().domain(yDomain).range([plot.bottom, plot.top]);

const svg = d3.select("#chart");
svg.append("rect").attr("width", W).attr("height", H).attr("fill", "#fff");

svg.append("defs").append("clipPath").attr("id", "clip")
  .append("rect").attr("x", plot.left).attr("y", plot.top)
  .attr("width", plot.right - plot.left).attr("height", plot.bottom - plot.top);

const line = d3.line().x(d => x(d.date)).y(d => y(d.value));
const g = svg.append("g").attr("clip-path", "url(#clip)");
g.selectAll("path.series").data(series).join("path")
  .attr("class", "series")
  .attr("d", d => line(d.values))
  .attr("fill", "none")
  .attr("stroke", d => d.color)
  .attr("stroke-width", 1.9)
  .attr("stroke-linejoin", "round");

// axes
const xAxis = d3.axisBottom(x)
  .tickValues(xTickYears.map(yr => new Date(Date.UTC(yr, 0, 1))))
  .tickFormat(d3.utcFormat("%Y"))
  .tickSize(5).tickSizeOuter(0).tickPadding(4);
const gx = svg.append("g").attr("transform", `translate(0,${plot.bottom})`).call(xAxis);
gx.select(".domain").remove();
gx.selectAll("line").attr("stroke", "#000").attr("stroke-width", 1.1);
gx.selectAll("text").attr("font-size", 31).attr("font-family", font).attr("fill", "#000");

const yAxis = d3.axisLeft(y).tickValues(yTickValues).tickFormat(d3.format("d"))
  .tickSize(5).tickSizeOuter(0).tickPadding(3);
const gy = svg.append("g").attr("transform", `translate(${plot.left},0)`).call(yAxis);
gy.select(".domain").remove();
gy.selectAll("line").attr("stroke", "#000").attr("stroke-width", 1.1);
gy.selectAll("text").attr("font-size", 31).attr("font-family", font).attr("fill", "#000");

// spines
svg.append("rect").attr("x", plot.left).attr("y", plot.top)
  .attr("width", plot.right - plot.left).attr("height", plot.bottom - plot.top)
  .attr("fill", "none").attr("stroke", "#000").attr("stroke-width", 1.1);

// title
svg.append("text").attr("x", (plot.left + plot.right) / 2).attr("y", 33)
  .attr("text-anchor", "middle").attr("font-size", 28).attr("letter-spacing", 1.3)
  .attr("font-family", font).attr("fill", "#000").text(chartTitle);

// legend
const lg = svg.append("g");
lg.append("rect").attr("x", 1452).attr("y", 51).attr("width", 238).attr("height", 233)
  .attr("rx", 5).attr("fill", "#fff").attr("fill-opacity", 0.8)
  .attr("stroke", "#cccccc").attr("stroke-width", 1.1);
const items = lg.selectAll("g.item").data(series).join("g").attr("class", "item")
  .attr("transform", (d, i) => `translate(0,${74.5 + i * 45})`);
items.append("line").attr("x1", 1463).attr("x2", 1524).attr("y1", 0).attr("y2", 0)
  .attr("stroke", d => d.color).attr("stroke-width", 1.9);
const lt = items.append("text").attr("x", 1550).attr("y", 0).attr("dy", "0.36em")
  .attr("font-size", 28).attr("font-family", font).attr("fill", "#000");
lt.append("tspan").attr("letter-spacing", 2.5).text(d => d.name.slice(0, -1));
lt.append("tspan").attr("font-family", "'Liberation Serif', 'DejaVu Serif', serif")
  .attr("font-size", 29).text(d => d.name.slice(-1));
</script>
</body></html>
